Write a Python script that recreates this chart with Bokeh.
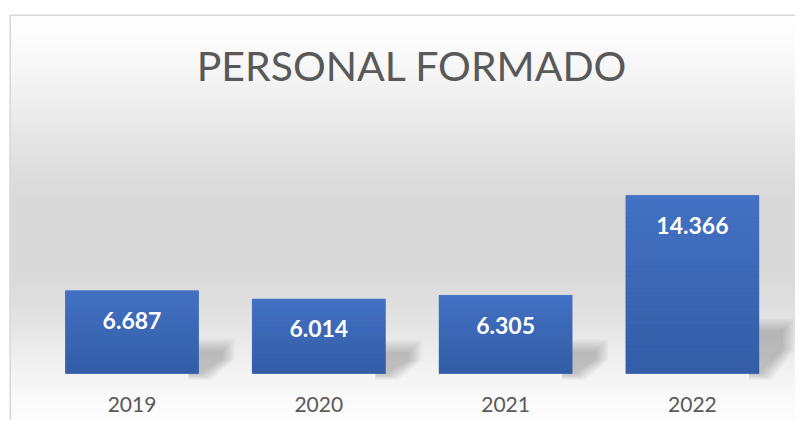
from bokeh.plotting import figure
from bokeh.models import Range1d, Span
from bokeh.core.properties import value
from bokeh.embed import file_html
from bokeh.resources import INLINE

# ---- data ----
years = ["2019", "2020", "2021", "2022"]
values = [6687, 6014, 6305, 14366]
value_labels = ["6.687", "6.014", "6.305", "14.366"]
title_text = "PERSONAL FORMADO"

# ---- layout constants (pixels) ----
W, H = 795, 420
LEFT_B, TOP_B = 9, 14
PX_PER_CAT = 186.8          # horizontal pixels per category
UNITS_PER_PX = 80.7         # data units per vertical pixel
FRAME_W = W - LEFT_B
FRAME_H = H - TOP_B
FIRST_CAT_PX = 122.5        # first category centre, from frame left
BASE_PX = 359               # baseline, from frame top
BAR_W = 0.712

x_start = -FIRST_CAT_PX / PX_PER_CAT
x_end = x_start + FRAME_W / PX_PER_CAT
y_end = BASE_PX * UNITS_PER_PX
y_start = y_end - FRAME_H * UNITS_PER_PX

p = figure(width=W, height=H, title=None,
           x_range=Range1d(x_start, x_end), y_range=Range1d(y_start, y_end),
           x_axis_location=None, y_axis_location=None,
           toolbar_location=None, output_backend="svg",
           min_border_left=LEFT_B, min_border_right=0,
           min_border_top=TOP_B, min_border_bottom=0,
           outline_line_color=None,
           background_fill_color="white", border_fill_color="white")
p.xgrid.grid_line_color = None
p.ygrid.grid_line_color = None

# ---- background gradient (style) ----
def page_to_data(py):
    return (BASE_PX + TOP_B - py) * UNITS_PER_PX

stops = [(14, 255), (40, 252), (80, 244), (120, 234), (165, 223), (200, 217),
         (270, 217), (310, 224), (350, 236), (380, 245), (400, 250), (428, 253)]

def grey_at(py):
    for (a, ga), (b, gb) in zip(stops[:-1], stops[1:]):
        if a <= py <= b:
            t = (py - a) / (b - a)
            return ga + (gb - ga) * t
    return stops[-1][1]

band_top, band_bot, band_col = [], [], []
py = 14
while py < 428:
    g = int(round(grey_at(py + 1.5)))
    band_top.append(page_to_data(py))
    band_bot.append(page_to_data(py + 3))
    band_col.append("#%02x%02x%02x" % (g, g, g))
    py += 3
p.quad(left=x_start, right=x_end, top=band_top, bottom=band_bot,
       fill_color=band_col, line_color=band_col, line_width=1)

# border lines (top and left)
p.add_layout(Span(location=x_start, dimension="height", line_color="#d9d9d9", line_width=3))
p.add_layout(Span(location=y_end, dimension="width", line_color="#d9d9d9", line_width=3))

# ---- bar shadows (style) ----
xs_list, ys_list = [], []
for i, v in enumerate(values):
    xr = i + BAR_W / 2
    s_px = 10.5 + 0.2105 * (v / UNITS_PER_PX)
    for d in [7, 5, 3, 1, -1, -3, -5]:
        wd = 29 + d
        top = s_px + d
        mid = 0.5 * s_px
        bot = -3 - 0.5 * d
        pts = [(-10, top), (wd, top), (wd, mid), (6 + d, bot), (-10, bot)]
        xs_list.append([xr + px / PX_PER_CAT for px, _ in pts])
        ys_list.append([py_ * UNITS_PER_PX for _, py_ in pts])
p.patches(xs=xs_list, ys=ys_list, fill_color="black", fill_alpha=0.03, line_color=None)

# ---- bars ----
idx = list(range(len(years)))
p.vbar(x=idx, top=values, bottom=0, width=BAR_W, fill_color="#3c68b5", line_color=None)

# gradient overlay on bars
top_c = (68, 114, 196)
bot_c = (51, 93, 166)
N = 40
gl, gr, gt, gb, gc = [], [], [], [], []
for i, v in enumerate(values):
    for j in range(N):
        t = (j + 0.5) / N
        c = tuple(int(round(bot_c[k] + (top_c[k] - bot_c[k]) * t)) for k in range(3))
        gl.append(i - BAR_W / 2)
        gr.append(i + BAR_W / 2)
        gb.append(v * j / N)
        gt.append(v * (j + 1) / N)
        gc.append("#%02x%02x%02x" % c)
p.quad(left=gl, right=gr, top=gt, bottom=gb, fill_color=gc, line_color=gc, line_width=0.5)

# ---- labels ----
p.text(x=idx, y=values, text=value_labels, y_offset=30,
       text_color="white", text_font=value("Lato"), text_font_style="bold",
       text_font_size="23px", text_align="center", text_baseline="middle")

p.text(x=idx, y=[0] * len(years), text=years, y_offset=31,
       text_color="#595959", text_font=value("Lato"),
       text_font_size="21px", text_align="center", text_baseline="middle")

p.text(x=[(len(years) - 1) / 2], y=[y_end], text=[title_text], y_offset=50.5,
       text_color="#595959", text_font=value("Lato"),
       text_font_size="41px", text_align="center", text_baseline="middle")

open("out.html", "w").write(file_html(p, INLINE))
